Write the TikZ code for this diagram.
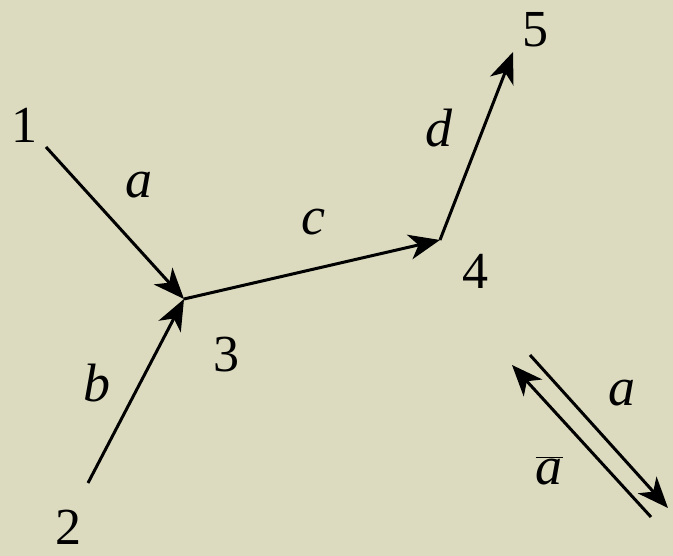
\documentclass[tikz,border=0pt]{standalone}
\usepackage{fontspec}
\setmainfont{Liberation Serif}
\usetikzlibrary{arrows.meta}
\definecolor{bgcol}{RGB}{220,219,192}
\tikzset{
  edge/.style={line width=3pt, draw=black, -{Stealth[length=31pt,width=25pt,inset=9pt]}},
  lbl/.style={inner sep=0pt, font=\fontsize{52}{60}\selectfont},
  ilbl/.style={inner sep=0pt, font=\fontsize{54}{60}\selectfont\itshape}
}
\begin{document}
\begin{tikzpicture}[x=1pt,y=-1pt]
\fill[bgcol] (0,0) rectangle (673,556);
\useasboundingbox (0,0) rectangle (673,556);
% points
\coordinate (s1) at (46,147);
\coordinate (s2) at (88,483);
\coordinate (j3) at (184,299);
\coordinate (j4) at (440,240);
\coordinate (e5) at (513,52);
\coordinate (ra) at (530,355);
\coordinate (re) at (668,508);
\coordinate (la) at (651,517);
\coordinate (le) at (512,365);
% labels
\node[lbl] (n1) at (24,125) {1};
\node[lbl] (n2) at (69,527) {2};
\node[lbl] (n3) at (226,355) {3};
\node[lbl] (n4) at (475,271) {4};
\node[lbl] (n5) at (535,30) {5};
\node[ilbl] (la1) at (139,185) {a};
\node[ilbl] (lb) at (97,383) {b};
\node[ilbl] (lc) at (313,222) {c};
\node[ilbl] (ld) at (439,128) {d};
\node[ilbl] (la2) at (622,393) {a};
\node[ilbl, anchor=base] (lab) at (549,484) {$\overline{\hbox{\itshape a}}$};
% connectors
\draw[edge] (s1) -- (j3);
\draw[edge] (s2) -- (j3);
\draw[edge] (j3) -- (j4);
\draw[edge] (j4) -- (e5);
\draw[edge] (ra) -- (re);
\draw[edge] (la) -- (le);
\end{tikzpicture}
\end{document}
